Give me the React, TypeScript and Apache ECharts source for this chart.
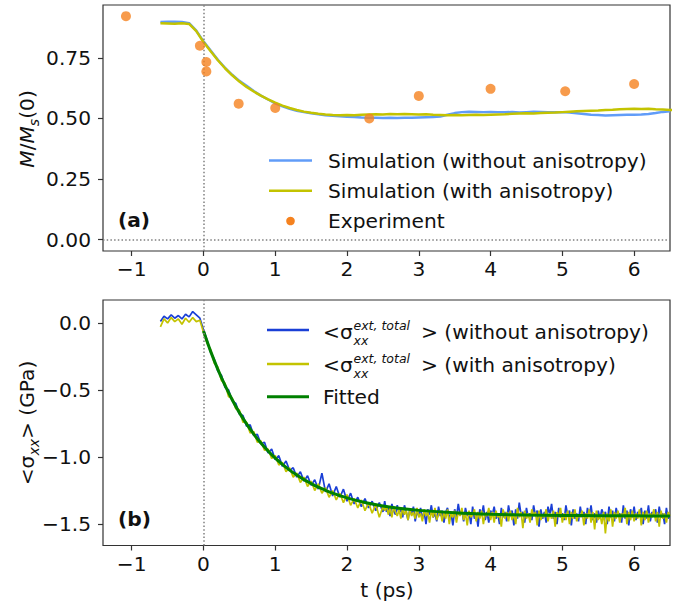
import React, { useEffect, useRef } from 'react';
import * as echarts from 'echarts';

// ---------- data ----------
const X_TICKS = [-1, 0, 1, 2, 3, 4, 5, 6];
const TOP_Y_TICKS = [0, 0.25, 0.5, 0.75];
const BOT_Y_TICKS = [-1.5, -1, -0.5, 0];

// panel (a): simulations sampled from t = -0.6 ps every 0.1 ps
const SIM_T0 = -0.6;
const SIM_DT = 0.1;
const simNoAniso = [0.898, 0.899, 0.899, 0.898, 0.893, 0.862, 0.818, 0.780, 0.742, 0.709, 0.680, 0.655, 0.635, 0.613, 0.594, 0.578, 0.562, 0.550, 0.540, 0.532, 0.526, 0.521, 0.517, 0.513, 0.511, 0.509, 0.507, 0.506, 0.504, 0.503, 0.503, 0.502, 0.503, 0.502, 0.503, 0.503, 0.504, 0.505, 0.506, 0.508, 0.515, 0.522, 0.526, 0.528, 0.527, 0.526, 0.527, 0.526, 0.525, 0.527, 0.524, 0.526, 0.528, 0.527, 0.526, 0.525, 0.526, 0.524, 0.521, 0.518, 0.515, 0.514, 0.512, 0.513, 0.514, 0.515, 0.515, 0.516, 0.518, 0.522, 0.527, 0.530];
const simAniso = [0.893, 0.892, 0.891, 0.893, 0.890, 0.860, 0.815, 0.777, 0.740, 0.707, 0.678, 0.652, 0.630, 0.611, 0.594, 0.579, 0.565, 0.553, 0.543, 0.535, 0.528, 0.523, 0.519, 0.516, 0.514, 0.513, 0.514, 0.513, 0.515, 0.516, 0.517, 0.516, 0.518, 0.517, 0.518, 0.517, 0.516, 0.517, 0.515, 0.514, 0.513, 0.514, 0.513, 0.514, 0.515, 0.514, 0.515, 0.516, 0.517, 0.519, 0.520, 0.521, 0.520, 0.522, 0.523, 0.524, 0.526, 0.528, 0.530, 0.531, 0.532, 0.533, 0.535, 0.536, 0.538, 0.539, 0.540, 0.539, 0.540, 0.538, 0.537, 0.535, 0.534];
const expT = [-1.08, -0.05, 0.04, 0.04, 0.49, 1.0, 2.31, 3.0, 4.0, 5.04, 6.0];
const expM = [0.922, 0.80, 0.733, 0.694, 0.561, 0.543, 0.50, 0.593, 0.622, 0.612, 0.642];

// panel (b): stress, head sampled from t = -0.6 ps to 2.5 ps every 0.05 ps
const HEAD_T0 = -0.6;
const HEAD_DT = 0.05;
const stressNoAnisoHead = [0.01, 0.05, 0.03, 0.06, 0.035, 0.055, 0.03, 0.065, 0.045, 0.085, 0.06, 0.035, -0.05,
  -0.13, -0.22, -0.27, -0.36, -0.39, -0.48, -0.50, -0.58, -0.60, -0.68, -0.69, -0.77, -0.76, -0.84, -0.83, -0.90, -0.89, -0.97, -0.94, -1.02,
  -0.99, -1.07, -1.03, -1.10, -1.08, -1.15, -1.11, -1.18, -1.14, -1.21, -1.17, -1.24, -1.12, -1.26, -1.20, -1.29, -1.22, -1.30, -1.24, -1.33,
  -1.27, -1.35, -1.30, -1.37, -1.31, -1.38, -1.33, -1.40, -1.34, -1.41];
const stressAnisoHead = [-0.03, 0.03, 0.00, 0.04, 0.01, 0.03, -0.01, 0.035, 0.005, 0.04, 0.01, 0.02, -0.07,
  -0.15, -0.20, -0.30, -0.33, -0.43, -0.45, -0.55, -0.56, -0.64, -0.65, -0.74, -0.74, -0.82, -0.81, -0.89, -0.88, -0.95, -0.94, -1.01, -0.99,
  -1.06, -1.04, -1.11, -1.08, -1.15, -1.12, -1.19, -1.15, -1.22, -1.18, -1.25, -1.20, -1.27, -1.23, -1.30, -1.25, -1.32, -1.27, -1.34, -1.28,
  -1.36, -1.31, -1.38, -1.32, -1.40, -1.34, -1.42, -1.35, -1.45, -1.37];
// tail sampled from t = 2.525 ps to 6.5 ps every 0.025 ps
const TAIL_T0 = 2.525;
const TAIL_DT = 0.025;
const stressNoAnisoTail = [
  -1.33, -1.41, -1.37, -1.44, -1.35, -1.40, -1.43, -1.36, -1.42, -1.38,
  -1.45, -1.36, -1.41, -1.47, -1.39, -1.43, -1.37, -1.48, -1.40, -1.44,
  -1.38, -1.46, -1.41, -1.50, -1.39, -1.43, -1.36, -1.45, -1.42, -1.48,
  -1.37, -1.44, -1.40, -1.49, -1.41, -1.38, -1.46, -1.42, -1.51, -1.39,
  -1.45, -1.35, -1.43, -1.40, -1.48, -1.38, -1.44, -1.41, -1.50, -1.37,
  -1.46, -1.42, -1.52, -1.39, -1.44, -1.36, -1.47, -1.41, -1.49, -1.40,
  -1.43, -1.37, -1.46, -1.42, -1.50, -1.38, -1.45, -1.41, -1.48, -1.36,
  -1.44, -1.40, -1.51, -1.39, -1.46, -1.34, -1.43, -1.41, -1.49, -1.38,
  -1.45, -1.42, -1.47, -1.36, -1.44, -1.40, -1.52, -1.39, -1.46, -1.41,
  -1.49, -1.37, -1.43, -1.35, -1.46, -1.41, -1.50, -1.38, -1.45, -1.42,
  -1.47, -1.36, -1.44, -1.40, -1.51, -1.39, -1.46, -1.42, -1.48, -1.37,
  -1.45, -1.41, -1.50, -1.38, -1.44, -1.36, -1.47, -1.42, -1.49, -1.40,
  -1.46, -1.39, -1.43, -1.41, -1.50, -1.37, -1.45, -1.40, -1.48, -1.38,
  -1.44, -1.42, -1.49, -1.36, -1.46, -1.40, -1.51, -1.39, -1.45, -1.37,
  -1.47, -1.41, -1.43, -1.38, -1.50, -1.40, -1.46, -1.36, -1.48, -1.41,
  -1.44, -1.39, -1.49, -1.37, -1.45, -1.42, -1.50, -1.38, -1.46, -1.43];
const stressAnisoTail = [
  -1.40, -1.36, -1.43, -1.38, -1.45, -1.37, -1.41, -1.44, -1.39, -1.46,
  -1.38, -1.43, -1.40, -1.47, -1.39, -1.44, -1.41, -1.46, -1.38, -1.45,
  -1.42, -1.48, -1.39, -1.44, -1.41, -1.49, -1.40, -1.45, -1.38, -1.47,
  -1.43, -1.40, -1.48, -1.41, -1.46, -1.39, -1.50, -1.42, -1.45, -1.40,
  -1.49, -1.41, -1.44, -1.38, -1.47, -1.42, -1.51, -1.40, -1.45, -1.43,
  -1.39, -1.48, -1.41, -1.46, -1.40, -1.50, -1.42, -1.44, -1.38, -1.47,
  -1.41, -1.49, -1.40, -1.45, -1.43, -1.52, -1.39, -1.46, -1.41, -1.48,
  -1.40, -1.47, -1.42, -1.50, -1.38, -1.45, -1.41, -1.53, -1.40, -1.46,
  -1.42, -1.49, -1.39, -1.44, -1.41, -1.51, -1.40, -1.47, -1.43, -1.45,
  -1.39, -1.48, -1.42, -1.46, -1.40, -1.52, -1.41, -1.45, -1.38, -1.49,
  -1.42, -1.47, -1.40, -1.50, -1.41, -1.46, -1.39, -1.48, -1.43, -1.45,
  -1.40, -1.51, -1.42, -1.46, -1.39, -1.49, -1.41, -1.54, -1.40, -1.47,
  -1.43, -1.50, -1.41, -1.57, -1.42, -1.48, -1.39, -1.52, -1.41, -1.46,
  -1.40, -1.49, -1.42, -1.45, -1.38, -1.50, -1.41, -1.47, -1.40, -1.48,
  -1.42, -1.46, -1.39, -1.51, -1.41, -1.47, -1.40, -1.49, -1.42, -1.45,
  -1.39, -1.48, -1.41, -1.52, -1.40, -1.46, -1.42, -1.49, -1.41, -1.44];
const fitT = [0, 0.1, 0.2, 0.3, 0.4, 0.5, 0.6, 0.7, 0.8, 0.9, 1.0, 1.1, 1.2, 1.3, 1.4, 1.5, 1.6, 1.7, 1.8, 1.9, 2.0, 2.25, 2.5, 2.75, 3.0, 3.5, 4.0, 4.5, 5.0, 5.5, 6.0, 6.5];
const fitS = [-0.06, -0.212, -0.346, -0.466, -0.573, -0.669, -0.753, -0.829, -0.896, -0.955, -1.009, -1.055, -1.098, -1.135, -1.169, -1.198, -1.225, -1.248, -1.270, -1.288, -1.305, -1.339, -1.365, -1.384, -1.398, -1.416, -1.427, -1.433, -1.436, -1.438, -1.439, -1.440];

// ---------- helpers ----------
const FONT = "'DejaVu Sans', sans-serif";
const FS = 20.2;
const SUBFS = 12.5;
const C_BLUE_A = '#619cf8';
const C_YEL = '#c3c300';
const C_ORANGE = '#f5821f';
const C_BLUE_B = '#1a3fd6';
const C_GREEN = '#008000';
const C_FRAME = '#333333';
const C_TEXT = '#111111';

const grid = (t0: number, dt: number, vals: number[]) =>
  vals.map((v, i) => [Number((t0 + i * dt).toFixed(3)), v]);
const zip = (xs: number[], ys: number[]) => xs.map((x, i) => [x, ys[i]]);
const minus = (s: string) => s.replace('-', '\u2212');

function xAxisOpt(gridIndex: number) {
  return {
    type: 'value', gridIndex, min: -1.4, max: 6.5,
    splitLine: { show: false },
    axisLine: { show: false, onZero: false },
    axisTick: { show: true, length: 5, lineStyle: { color: C_FRAME, width: 1.2 }, customValues: X_TICKS },
    axisLabel: {
      customValues: X_TICKS, margin: 8, color: C_TEXT, fontFamily: FONT, fontSize: FS,
      formatter: (v: number) => minus(String(v)),
    },
  };
}
function yAxisOpt(gridIndex: number, min: number, max: number, ticks: number[], digits: number) {
  return {
    type: 'value', gridIndex, min, max,
    splitLine: { show: false },
    axisLine: { show: false, onZero: false },
    axisTick: { show: true, length: 5, lineStyle: { color: C_FRAME, width: 1.2 }, customValues: ticks },
    axisLabel: {
      customValues: ticks, margin: 12, color: C_TEXT, fontFamily: FONT, fontSize: FS,
      formatter: (v: number) => minus(v.toFixed(digits)),
    },
  };
}

const dotted = { color: '#808080', width: 1.5, type: [1.5, 2.2] as any };

function buildOption() {
  const txt = (text: string, x: number, y: number, extra: any = {}) => ({
    type: 'text', x, y, silent: true,
    style: { text, fontFamily: FONT, fontSize: FS, fill: C_TEXT, verticalAlign: 'middle', align: 'left', ...extra },
  });
  const seg = (x1: number, x2: number, y: number, color: string, w: number) => ({
    type: 'line', silent: true, shape: { x1, y1: y, x2, y2: y }, style: { stroke: color, lineWidth: w },
  });
  // "<σ" + stacked superscript / subscript + "> ..."
  const sigmaEntry = (y: number, tail: string) => [
    txt('<σ', 323, y),
    txt('ext, total', 353.5, y - 7, { fontSize: SUBFS, fontStyle: 'italic' }),
    txt('xx', 353.5, y + 8.5, { fontSize: SUBFS, fontStyle: 'italic' }),
    txt('> ' + tail, 421, y),
  ];

  const graphic: any[] = [
    // panel (a) legend
    seg(269, 312, 160.5, C_BLUE_A, 2.5),
    txt('Simulation (without anisotropy)', 328, 160.5),
    seg(269, 312, 190.7, C_YEL, 2.5),
    txt('Simulation (with anisotropy)', 328, 190.7),
    { type: 'circle', silent: true, shape: { cx: 290.5, cy: 221, r: 4.3 }, style: { fill: C_ORANGE } },
    txt('Experiment', 328, 221),
    // panel (b) legend
    seg(267, 309, 330, C_BLUE_B, 2.5),
    ...sigmaEntry(332, '(without anisotropy)'),
    seg(267, 309, 364, C_YEL, 2.5),
    ...sigmaEntry(365, '(with anisotropy)'),
    seg(267, 309, 396.7, C_GREEN, 3),
    txt('Fitted', 323, 397),
    // panel labels
    txt('(a)', 118, 220, { fontWeight: 'bold' }),
    txt('(b)', 118, 519, { fontWeight: 'bold' }),
    // axis titles
    {
      type: 'text', x: 27, y: 129, rotation: Math.PI / 2, silent: true,
      style: {
        text: '{i|M}/{i|M}{sub|s}(0)', fontFamily: FONT, fontSize: FS, fill: C_TEXT,
        align: 'center', verticalAlign: 'middle', lineHeight: 28,
        rich: {
          i: { fontFamily: FONT, fontSize: FS, fontStyle: 'italic', lineHeight: 28, fill: C_TEXT },
          sub: { fontFamily: FONT, fontSize: 14, fontStyle: 'italic', lineHeight: 14, verticalAlign: 'bottom', fill: C_TEXT },
        },
      },
    },
    {
      type: 'text', x: 27, y: 423, rotation: Math.PI / 2, silent: true,
      style: {
        text: '<σ{sub|xx}> (GPa)', fontFamily: FONT, fontSize: FS, fill: C_TEXT,
        align: 'center', verticalAlign: 'middle', lineHeight: 28,
        rich: {
          sub: { fontFamily: FONT, fontSize: 14, fontStyle: 'italic', lineHeight: 14, verticalAlign: 'bottom', fill: C_TEXT },
        },
      },
    },
    txt('t (ps)', 387, 590, { align: 'center' }),
  ];

  return {
    animation: false,
    backgroundColor: '#ffffff',
    grid: [
      { left: 103, top: 5, width: 567, height: 246, show: true, borderColor: C_FRAME, borderWidth: 1.2, backgroundColor: 'transparent' },
      { left: 103, top: 300, width: 567, height: 245.5, show: true, borderColor: C_FRAME, borderWidth: 1.2, backgroundColor: 'transparent' },
    ],
    xAxis: [xAxisOpt(0), xAxisOpt(1)],
    yAxis: [
      yAxisOpt(0, -0.047, 0.968, TOP_Y_TICKS, 2),
      yAxisOpt(1, -1.66, 0.171, BOT_Y_TICKS, 1),
    ],
    series: [
      {
        name: 'Simulation (without anisotropy)', type: 'line', xAxisIndex: 0, yAxisIndex: 0,
        data: grid(SIM_T0, SIM_DT, simNoAniso), symbol: 'none', lineStyle: { color: C_BLUE_A, width: 2.5 },
        markLine: { silent: true, symbol: 'none', label: { show: false }, lineStyle: dotted, data: [{ xAxis: 0 }, { yAxis: 0 }] },
      },
      {
        name: 'Simulation (with anisotropy)', type: 'line', xAxisIndex: 0, yAxisIndex: 0,
        data: grid(SIM_T0, SIM_DT, simAniso), symbol: 'none', lineStyle: { color: C_YEL, width: 2.5 },
      },
      {
        name: 'Experiment', type: 'scatter', xAxisIndex: 0, yAxisIndex: 0,
        data: zip(expT, expM), symbol: 'circle', symbolSize: 10, itemStyle: { color: C_ORANGE }, z: 5,
      },
      {
        name: '<σxx ext,total> (without anisotropy)', type: 'line', xAxisIndex: 1, yAxisIndex: 1,
        data: [...grid(HEAD_T0, HEAD_DT, stressNoAnisoHead), ...grid(TAIL_T0, TAIL_DT, stressNoAnisoTail)],
        symbol: 'none', lineStyle: { color: C_BLUE_B, width: 1.7 },
        markLine: { silent: true, symbol: 'none', label: { show: false }, lineStyle: dotted, data: [{ xAxis: 0 }] },
      },
      {
        name: '<σxx ext,total> (with anisotropy)', type: 'line', xAxisIndex: 1, yAxisIndex: 1,
        data: [...grid(HEAD_T0, HEAD_DT, stressAnisoHead), ...grid(TAIL_T0, TAIL_DT, stressAnisoTail)],
        symbol: 'none', lineStyle: { color: C_YEL, width: 1.7 },
      },
      {
        name: 'Fitted', type: 'line', xAxisIndex: 1, yAxisIndex: 1,
        data: zip(fitT, fitS), symbol: 'none', smooth: 0.3, lineStyle: { color: C_GREEN, width: 3 }, z: 4,
      },
    ],
    graphic,
  };
}

export default function App() {
  const ref = useRef<HTMLDivElement>(null);
  useEffect(() => {
    document.body.style.margin = '0';
    const chart = echarts.init(ref.current as HTMLDivElement, null, { renderer: 'svg' });
    chart.setOption(buildOption() as any);
    return () => chart.dispose();
  }, []);
  return <div ref={ref} style={{ width: 688, height: 608 }} />;
}
